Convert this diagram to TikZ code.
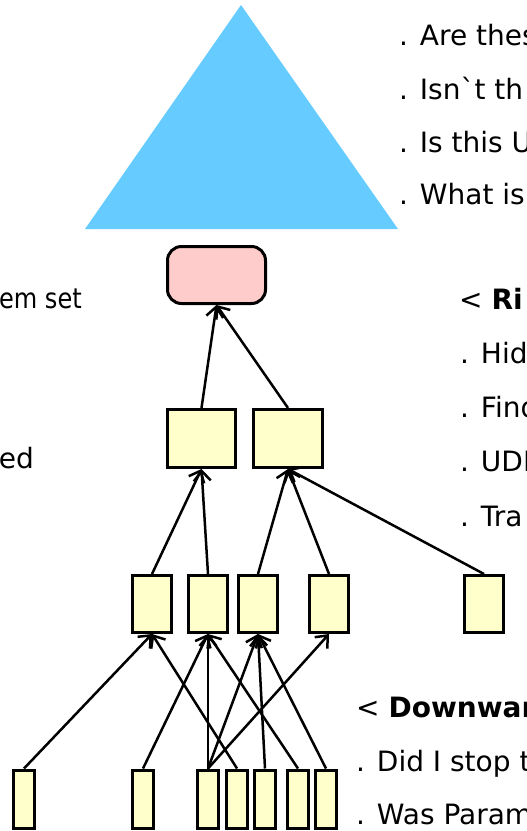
\documentclass[tikz,border=0pt]{standalone}
\usepackage{fontspec}
\usepackage{graphicx}
\setmainfont{DejaVu Sans}
\usetikzlibrary{arrows.meta}
\definecolor{triblue}{RGB}{102,204,255}
\definecolor{boxpink}{RGB}{255,204,204}
\definecolor{boxyellow}{RGB}{255,255,204}
\begin{document}
\begin{tikzpicture}[x=1pt,y=-1pt,
  box/.style={draw=black, line width=3pt, fill=boxyellow, inner sep=0pt, rectangle},
  cbox/.style={box, minimum width=39pt, minimum height=57pt},
  dbox/.style={box, minimum width=21pt, minimum height=58pt},
  arr/.style={draw=black, line width=2.5pt, -{Straight Barb[length=10pt,width=17pt]}},
  txt/.style={inner sep=0pt, font=\fontsize{28}{33}\selectfont}]
\useasboundingbox (0,0) rectangle (527,831);
\clip (0,0) rectangle (527,831);
% triangle
\fill[triblue] (241,5) -- (85,229) -- (398,229) -- cycle;
% nodes
\node[box, fill=boxpink, rounded corners=14pt, minimum width=98pt, minimum height=57pt] (P) at (216.5,275) {};
\node[box, minimum width=68pt, minimum height=58pt] (A) at (201.5,438.5) {};
\node[box, minimum width=69pt, minimum height=58pt] (B) at (288,438.5) {};
\node[cbox] (C1) at (152,604) {};
\node[cbox] (C2) at (208,604) {};
\node[cbox] (C3) at (258,604) {};
\node[cbox] (C4) at (329,604) {};
\node[cbox] (C5) at (484,604) {};
\node[dbox] (D1) at (24,799) {};
\node[dbox] (D2) at (143,799) {};
\node[dbox] (D3) at (208,799) {};
\node[dbox] (D4) at (237,799) {};
\node[dbox] (D5) at (265,799) {};
\node[dbox] (D6) at (298,799) {};
\node[dbox] (D7) at (326,799) {};
% connectors
\draw[arr] (A.north) -- (P.south);
\draw[arr] (B.north) -- (P.south);
\draw[arr] (C1.north) -- (A.south);
\draw[arr] (C2.north) -- (A.south);
\draw[arr] (C3.north) -- (B.south);
\draw[arr] (C4.north) -- (B.south);
\draw[arr] (C5.north) -- (B.south);
\draw[arr] (D1.north) -- (C1.south);
\draw[arr] (D4.north) -- (C1.south);
\draw[arr] (D2.north) -- (C2.south);
\draw[arr] (D3.north) -- (C2.south);
\draw[arr] (D6.north) -- (C2.south);
\draw[arr] (D3.north) -- (C3.south);
\draw[arr] (D5.north) -- (C3.south);
\draw[arr] (D7.north) -- (C3.south);
\draw[arr] (D3.north) -- (C4.south);
% texts
\node[txt, anchor=base west] (q1) at (399,45) {. Are thes};
\node[txt, anchor=base west] (q2) at (399,99) {. Isn\textasciigrave t th};
\node[txt, anchor=base west] (q3) at (399,152) {. Is this U};
\node[txt, anchor=base west] (q4) at (399,204) {. What is};
\node[txt, anchor=base east] (l1) at (82,308) {\scalebox{0.86}[1]{em set}};
\node[txt, anchor=base east] (l2) at (34,468) {ed};
\node[txt, anchor=base west] (r0) at (459,309) {< \textbf{Ri}};
\node[txt, anchor=base west] (r1) at (460,363) {. Hid};
\node[txt, anchor=base west] (r2) at (460,417) {. Find};
\node[txt, anchor=base west] (r3) at (460,471) {. UDE};
\node[txt, anchor=base west] (r4) at (460,526) {. Tra};
\node[txt, anchor=base west] (s0) at (356,717) {< \textbf{Downwar}};
\node[txt, anchor=base west] (s1) at (356,771) {. Did I stop t};
\node[txt, anchor=base west] (s2) at (356,824) {. Was Param};
\end{tikzpicture}
\end{document}
